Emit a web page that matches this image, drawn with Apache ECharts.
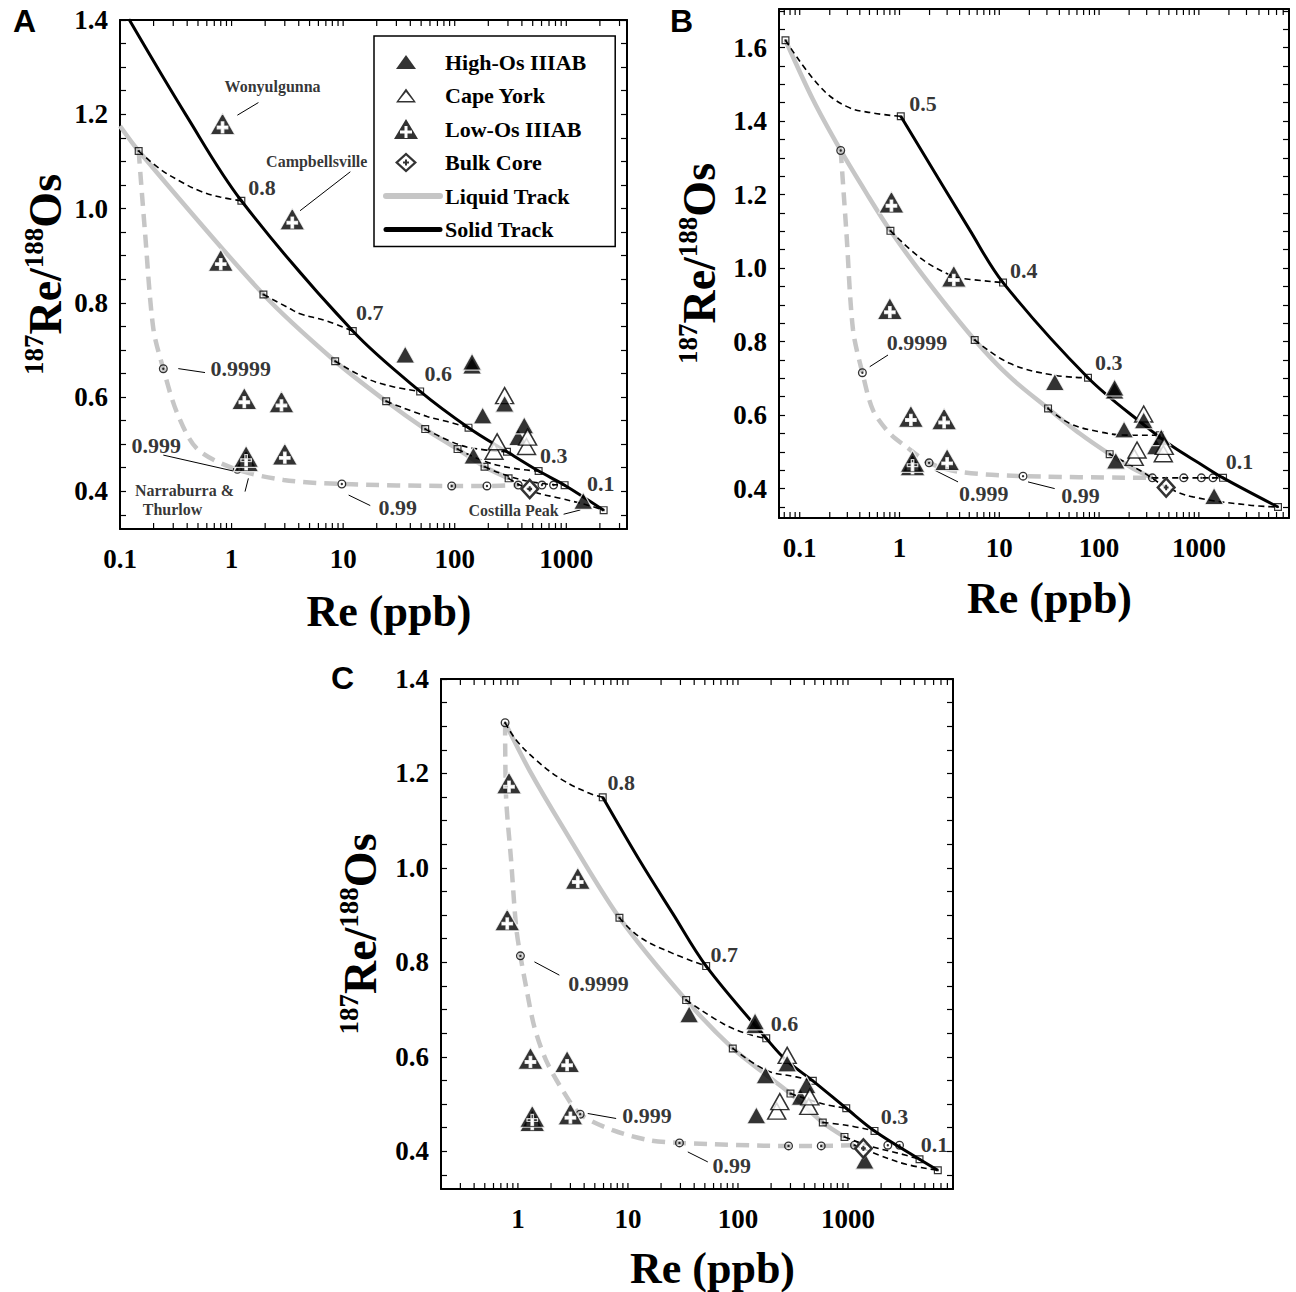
<!DOCTYPE html>
<html>
<head>
<meta charset="utf-8">
<script src="https://cdn.jsdelivr.net/npm/echarts@6/dist/echarts.min.js"></script>
<style>
  html, body { margin: 0; padding: 0; background: #fff; }
  #chart { width: 1296px; height: 1292px; }
</style>
</head>
<body>
<div id="chart"></div>
<script>
// ---------------------------------------------------------------------------
// Meteorite analyses (Re in ppb, 187Re/188Os) — shared by all three panels
// ---------------------------------------------------------------------------
const highOsIIIAB = [[36, 0.69], [143, 0.667], [143, 0.675], [178, 0.561], [280, 0.586],
                     [370, 0.515], [420, 0.54], [147, 0.476], [1420, 0.38]];
const capeYork    = [[280, 0.603], [225, 0.485], [240, 0.505], [440, 0.495], [450, 0.515]];
const lowOsIIIAB  = [[0.83, 1.18], [3.5, 0.978], [0.8, 0.89], [1.3, 0.597], [2.8, 0.59],
                     [1.35, 0.465], [1.35, 0.474], [3.0, 0.479]];

// Axis tick labels
const xTickLabels   = [0.1, 1, 10, 100, 1000];
const yTickLabelsAC = [0.4, 0.6, 0.8, 1.0, 1.2, 1.4];
const yTickLabelsB  = [0.4, 0.6, 0.8, 1.0, 1.2, 1.4, 1.6];

// ---------------------------------------------------------------------------
// Panel A model
// ---------------------------------------------------------------------------
const aSolidTrack  = [[0.12, 1.402], [0.396, 1.196], [1.224, 1.0165], [12.2, 0.74], [49, 0.612],
                      [133, 0.535], [294, 0.484], [565, 0.443], [966, 0.413], [2162, 0.36]];
const aLiquidTrack = [[0.1, 1.175], [0.147, 1.122], [1.93, 0.8176], [8.48, 0.676], [24.3, 0.591],
                      [54.4, 0.532], [106, 0.4895], [185, 0.452], [304, 0.4275]];
const aLiquidAlt   = [[0.147, 1.122], [0.1675, 0.95], [0.199, 0.745], [0.2445, 0.66], [0.322, 0.5687],
                      [0.487, 0.491], [1.04, 0.4487], [2.92, 0.424], [9.73, 0.4155], [94, 0.4113],
                      [194.5, 0.4113], [371, 0.4133]];
const aMixing = [
  [[0.147, 1.122], [0.229, 1.0836], [0.345, 1.058], [0.522, 1.037], [0.789, 1.0243], [1.224, 1.0165]],
  [[1.93, 0.8176], [3.35, 0.7873], [4.11, 0.7767], [7, 0.762], [12.2, 0.74]],
  [[8.48, 0.676], [16.4, 0.639], [28, 0.622], [49, 0.612]],
  [[24.3, 0.591], [56.6, 0.5587], [85.7, 0.548], [133, 0.535]],
  [[54.4, 0.532], [112, 0.498], [194, 0.4874], [294, 0.484]],
  [[106, 0.4895], [188, 0.463], [337, 0.4487], [565, 0.443]],
  [[185, 0.452], [315, 0.431], [585, 0.417], [966, 0.413]],
  [[304, 0.4275], [509, 0.3994], [883, 0.3852], [1531, 0.371], [2162, 0.36]]
];
const aSolidNodes  = [[1.224, 1.0165], [12.2, 0.74], [49, 0.612], [133, 0.535], [294, 0.484],
                      [565, 0.443], [966, 0.413], [2162, 0.36]];
const aLiquidNodes = [[0.147, 1.122], [1.93, 0.8176], [8.48, 0.676], [24.3, 0.591], [54.4, 0.532],
                      [106, 0.4895], [185, 0.452], [304, 0.4275]];
const aAltNodes    = [[0.2445, 0.66], [1.127, 0.4466], [9.73, 0.4155], [94, 0.4113], [194.5, 0.4113],
                      [371, 0.4133], [605, 0.4133], [769, 0.4133]];
const aBulkCore    = [[470, 0.405]];
const aFractionLabels = [['0.8', 1.87, 1.045], ['0.7', 17.3, 0.78], ['0.6', 71, 0.649], ['0.3', 770, 0.477],
                         ['0.1', 2040, 0.416], ['0.9999', 1.21, 0.66], ['0.999', 0.211, 0.498],
                         ['0.99', 30.8, 0.366]];
const aMeteoriteLabels = [['Wonyulgunna', 2.33, 1.258], ['Campbellsville', 5.8, 1.10],
                          ['Narraburra &', 0.378, 0.401], ['Thurlow', 0.296, 0.3623],
                          ['Costilla Peak', 337, 0.359]];
const aLeaders = [
  [[0.333, 0.6603], [0.578, 0.6519]], [[0.2445, 0.4768], [1.038, 0.443]], [[11.2, 0.392], [17.5, 0.3697]],
  [[1.127, 1.198], [1.74, 1.2248]], [[4.11, 0.9953], [11.6, 1.078]], [[1.32, 0.3994], [1.415, 0.4275]],
  [[946, 0.3513], [1336, 0.3604]]
];

// ---------------------------------------------------------------------------
// Panel B model
// ---------------------------------------------------------------------------
const bSolidTrack  = [[1.03, 1.413], [5.05, 1.104], [10.9, 0.9605], [77.4, 0.7017],
                      [298, 0.568], [551, 0.5136], [1018, 0.4684], [1746, 0.4292], [6207, 0.35]];
const bLiquidTrack = [[0.072, 1.62], [0.136, 1.458], [0.2575, 1.32], [0.466, 1.204], [0.811, 1.1014],
                      [1.86, 0.968], [5.67, 0.8044], [12.7, 0.7044], [30.8, 0.6182], [64, 0.55],
                      [127.7, 0.4937], [219, 0.4547], [342, 0.4292]];
const bLiquidAlt   = [[0.2575, 1.32], [0.294, 1.095], [0.342, 0.832], [0.4246, 0.7153], [0.542, 0.6136],
                      [0.798, 0.55], [1.17, 0.5136], [1.98, 0.47], [4.0, 0.4455], [17.3, 0.4338],
                      [342, 0.4292]];
const bMixing = [
  [[0.072, 1.62], [0.1585, 1.4946], [0.294, 1.44], [0.543, 1.422], [1.03, 1.413]],
  [[0.811, 1.1014], [1.72, 1.0223], [3.44, 0.977], [4.0, 0.9725], [10.9, 0.9605]],
  [[5.67, 0.8044], [12.7, 0.741], [34.5, 0.709], [77.4, 0.7017]],
  [[30.8, 0.6182], [50.7, 0.5774], [101, 0.5545], [187.5, 0.5455], [405, 0.545]],
  [[127.7, 0.4937], [255, 0.45], [472, 0.4046], [873, 0.3774], [3229, 0.3548], [6207, 0.35]],
  [[342, 0.4292], [1746, 0.4292]]
];
const bSolidNodes  = [[1.03, 1.413], [10.9, 0.9605], [77.4, 0.7017], [405, 0.545], [1746, 0.4292], [6207, 0.35]];
const bLiquidNodes = [[0.072, 1.62], [0.811, 1.1014], [5.67, 0.8044], [30.8, 0.6182], [127.7, 0.4937]];
const bAltNodes    = [[0.2575, 1.32], [0.4246, 0.7153], [1.98, 0.47], [17.3, 0.4338], [342, 0.4292],
                      [705, 0.4292], [1059, 0.4292], [1384, 0.4292]];
const bBulkCore    = [[470, 0.403]];
const bFractionLabels = [['0.5', 1.72, 1.449], ['0.4', 17.6, 0.993], ['0.3', 125, 0.742], ['0.1', 2560, 0.474],
                         ['0.9999', 1.5, 0.798], ['0.999', 6.98, 0.387], ['0.99', 65, 0.382]];
const bLeaders = [
  [[0.503, 0.7316], [0.767, 0.7635]], [[2.25, 0.45], [3.86, 0.4182]], [[19.4, 0.4182], [35.9, 0.40]]
];

// ---------------------------------------------------------------------------
// Panel C model
// ---------------------------------------------------------------------------
const cSolidTrack  = [[5.9, 1.1494], [12.7, 1.0165], [25.5, 0.9036], [51.4, 0.792],
                      [180.7, 0.639], [274, 0.5928], [479, 0.549], [964, 0.491],
                      [1741, 0.443], [4467, 0.383], [6550, 0.3597]];
const cLiquidTrack = [[0.765, 1.3074], [1.27, 1.2072], [2.55, 1.087], [8.37, 0.8943], [33.8, 0.72],
                      [89.7, 0.6176], [180, 0.562], [300, 0.522], [590, 0.4608], [929, 0.4303]];
const cLiquidAlt   = [[0.765, 1.3074], [0.78, 1.151], [0.867, 1.0165], [0.963, 0.8752], [1.054, 0.8138],
                      [1.187, 0.748], [1.41, 0.6634], [1.8, 0.5928], [2.55, 0.529], [3.68, 0.4784],
                      [7.27, 0.4445], [15.7, 0.4233], [29.4, 0.4176], [288, 0.4112], [571, 0.4112],
                      [1146, 0.4127]];
const cMixing = [
  [[0.765, 1.3074], [0.963, 1.271], [1.46, 1.2284], [2.55, 1.186], [4.47, 1.158], [5.9, 1.1494]],
  [[8.37, 0.8943], [12.7, 0.854], [25.5, 0.819], [51.4, 0.792]],
  [[33.8, 0.72], [72.8, 0.6705], [119, 0.6493], [180.7, 0.639]],
  [[89.7, 0.6176], [180, 0.5716], [338, 0.5574], [479, 0.549]],
  [[300, 0.522], [600, 0.5], [964, 0.491]],
  [[590, 0.4608], [964, 0.455], [1741, 0.443]],
  [[929, 0.4303], [1682, 0.4091], [2940, 0.3951], [4467, 0.383]],
  [[1146, 0.4127], [1933, 0.3915], [3381, 0.3724], [6550, 0.3597]]
];
const cSolidNodes  = [[5.9, 1.1494], [51.4, 0.792], [180.7, 0.639], [479, 0.549], [964, 0.491],
                      [1741, 0.443], [4467, 0.383], [6550, 0.3597]];
const cLiquidNodes = [[8.37, 0.8943], [33.8, 0.72], [89.7, 0.6176], [300, 0.522], [590, 0.4608], [929, 0.4303]];
const cAltNodes    = [[0.765, 1.3074], [1.054, 0.8138], [3.68, 0.4784], [29.4, 0.4176], [288, 0.4112],
                      [571, 0.4112], [1146, 0.4127], [2301, 0.4127], [2940, 0.4127]];
const cBulkCore    = [[1380, 0.406]];
const cFractionLabels = [['0.8', 8.68, 1.181], ['0.7', 75, 0.817], ['0.6', 265, 0.67], ['0.3', 2650, 0.473],
                         ['0.1', 6100, 0.414], ['0.9999', 5.41, 0.755], ['0.999', 14.9, 0.476],
                         ['0.99', 88, 0.37]];
const cLeaders = [
  [[1.413, 0.801], [2.38, 0.7729]], [[4.31, 0.4799], [7.81, 0.4693]], [[35.0, 0.3985], [53.2, 0.3773]]
];

// ---------------------------------------------------------------------------
// Symbols (path symbols are scaled to their symbolSize box)
// ---------------------------------------------------------------------------
const SERIF = 'Liberation Serif';
const SYM_TRI      = 'path://M50,0L100,87L0,87Z';
const SYM_TRICROSS = 'path://M50,0L100,87L0,87Z M45,36L45,53L29,53L29,64L45,64L45,80L55,80L55,64L71,64L71,53L55,53L55,36Z';
const SYM_CORE     = 'path://M50,0L100,50L50,100L0,50Z M50,17L17,50L50,83L83,50Z M45,38H55V45H62V55H55V62H45V55H38V45H45Z';
const SYM_SQDOT    = 'path://M0,0H100V100H0Z M15,15V85H85V15Z M37,37H63V63H37Z';
const SYM_CIRCDOT  = 'path://M50,0A50,50,0,1,1,50,100A50,50,0,1,1,50,0Z M50,15A35,35,0,1,0,50,85A35,35,0,1,0,50,15Z M50,37A13,13,0,1,1,50,63A13,13,0,1,1,50,37Z';

// Legend icons drawn inside the 54 x 20 legend icon box
const LEG_TRI      = 'path://M0,0 M54,20 M20,3L30,17L10,17Z';
const LEG_TRIOPEN  = 'path://M0,0 M54,20 M20,3L30,17L10,17Z M20,6.4L12.7,15.6L27.3,15.6Z';
const LEG_TRICROSS = 'path://M0,0 M54,20 M20,0L32,20L8,20Z M18.5,7V11.5H14V14.5H18.5V19H21.5V14.5H26V11.5H21.5V7Z';
const LEG_CORE     = 'path://M0,0 M54,20 M20,0L31,10L20,20L9,10Z M20,3L12.3,10L20,17L27.7,10Z M19,7H21V9H23V11H21V13H19V11H17V9H19Z';

const LIQ_GRAY = '#c6c6c6';

const panels = [
  { letter: 'A', xMin: 0.1, xMax: 3500, yMin: 0.32, yMax: 1.4, yLabels: yTickLabelsAC,
    grid: { left: 120, top: 20, width: 507, height: 509 }, yGap: 50, xGap: 60,
    solid: aSolidTrack, liquid: aLiquidTrack, alt: aLiquidAlt, mixing: aMixing,
    solidNodes: aSolidNodes, liquidNodes: aLiquidNodes, altNodes: aAltNodes, bulk: aBulkCore,
    fractions: aFractionLabels, names: aMeteoriteLabels, leaders: aLeaders },
  { letter: 'B', xMin: 0.062, xMax: 8000, yMin: 0.32, yMax: 1.705, yLabels: yTickLabelsB,
    grid: { left: 779, top: 9, width: 510, height: 509 }, yGap: 55, xGap: 58,
    solid: bSolidTrack, liquid: bLiquidTrack, alt: bLiquidAlt, mixing: bMixing,
    solidNodes: bSolidNodes, liquidNodes: bLiquidNodes, altNodes: bAltNodes, bulk: bBulkCore,
    fractions: bFractionLabels, names: [], leaders: bLeaders },
  { letter: 'C', xMin: 0.2, xMax: 9000, yMin: 0.32, yMax: 1.4, yLabels: yTickLabelsAC,
    grid: { left: 441, top: 679, width: 512, height: 510 }, yGap: 56, xGap: 57,
    solid: cSolidTrack, liquid: cLiquidTrack, alt: cLiquidAlt, mixing: cMixing,
    solidNodes: cSolidNodes, liquidNodes: cLiquidNodes, altNodes: cAltNodes, bulk: cBulkCore,
    fractions: cFractionLabels, names: [], leaders: cLeaders }
];

function isDecade(v) {
  const l = Math.log10(v);
  return Math.abs(l - Math.round(l)) < 1e-6;
}

function yMinorTicks(p) {
  const out = [];
  for (let k = Math.ceil(p.yMin / 0.05); k * 0.05 <= p.yMax + 1e-9; k++) out.push(+(k * 0.05).toFixed(2));
  return out;
}

function logTicks(p) {
  const out = [];
  for (let e = Math.floor(Math.log10(p.xMin)); e <= Math.ceil(Math.log10(p.xMax)); e++) {
    for (let k = 1; k < 10; k++) {
      const v = +(k * Math.pow(10, e)).toPrecision(6);
      if (v > p.xMin * 1.0001 && v < p.xMax * 0.9999) out.push(v);
    }
  }
  return out;
}

const grids = [], xAxes = [], yAxes = [], series = [], titles = [];
const axisLineStyle = { color: '#000', width: 2 };
const tickLabelStyle = { fontFamily: SERIF, fontWeight: 'bold', fontSize: 27, color: '#000' };

panels.forEach((p, i) => {
  grids.push(Object.assign({ show: false }, p.grid));
  const xi = 2 * i, yi = 2 * i;

  xAxes.push({
    type: 'log', logBase: 10, gridIndex: i, min: p.xMin, max: p.xMax, position: 'bottom',
    axisLine: { show: true, lineStyle: axisLineStyle },
    axisTick: { show: false }, splitLine: { show: false },
    axisLabel: Object.assign({ margin: 16, showMinLabel: true, showMaxLabel: true,
      formatter: v => (isDecade(v) && xTickLabels.some(t => Math.abs(t - v) / t < 1e-6)) ? String(v) : '' }, tickLabelStyle),
    name: 'Re (ppb)', nameLocation: 'middle', nameGap: p.xGap,
    nameTextStyle: { fontFamily: SERIF, fontWeight: 'bold', fontSize: 44, color: '#000', padding: [0, 0, 0, 31] }
  });
  xAxes.push({
    type: 'log', logBase: 10, gridIndex: i, min: p.xMin, max: p.xMax, position: 'top',
    axisLine: { show: true, lineStyle: axisLineStyle },
    axisTick: { show: false }, axisLabel: { show: false }, splitLine: { show: false }
  });

  const yt = yMinorTicks(p);
  yAxes.push({
    type: 'value', gridIndex: i, min: p.yMin, max: p.yMax, position: 'left',
    axisLine: { show: true, lineStyle: axisLineStyle },
    axisTick: { show: true, inside: true, length: 6, customValues: yt, lineStyle: { color: '#000', width: 1.2 } },
    axisLabel: Object.assign({ margin: 12, customValues: p.yLabels, formatter: v => v.toFixed(1) }, tickLabelStyle),
    splitLine: { show: false },
    name: '{s|187}{m|Re/}{s|188}{m|Os}', nameLocation: 'middle', nameRotate: 90, nameGap: p.yGap,
    nameTextStyle: {
      rich: {
        m: { fontFamily: SERIF, fontWeight: 'bold', fontSize: 46, color: '#000', lineHeight: 50 },
        s: { fontFamily: SERIF, fontWeight: 'bold', fontSize: 27, color: '#000', lineHeight: 30, verticalAlign: 'top' }
      }
    }
  });
  yAxes.push({
    type: 'value', gridIndex: i, min: p.yMin, max: p.yMax, position: 'right',
    axisLine: { show: true, lineStyle: axisLineStyle },
    axisTick: { show: true, inside: true, length: 6, customValues: yt, lineStyle: { color: '#000', width: 1.2 } },
    axisLabel: { show: false }, splitLine: { show: false }
  });

  const on = { xAxisIndex: xi, yAxisIndex: yi };

  // liquid tracks
  series.push(Object.assign({ type: 'line', name: 'Liquid Track', data: p.liquid, symbol: 'none', smooth: 0.3,
    itemStyle: { color: LIQ_GRAY }, lineStyle: { color: LIQ_GRAY, width: 4.5 }, z: 2, silent: true }, on));
  series.push(Object.assign({ type: 'line', name: 'Liquid Track, high D', data: p.alt, symbol: 'none', smooth: 0.3,
    itemStyle: { color: LIQ_GRAY }, lineStyle: { color: LIQ_GRAY, width: 4.5, type: [13, 8] }, z: 2, silent: true }, on));
  // mixing lines between coexisting liquid and solid
  p.mixing.forEach(seg => series.push(Object.assign({ type: 'line', name: 'Mixing', data: seg, symbol: 'none',
    smooth: 0.4, itemStyle: { color: '#000' }, lineStyle: { color: '#000', width: 1.6, type: [6, 4] }, z: 3, silent: true }, on)));
  // solid track
  series.push(Object.assign({ type: 'line', name: 'Solid Track', data: p.solid, symbol: 'none', smooth: 0.35,
    itemStyle: { color: '#000' }, lineStyle: { color: '#000', width: 3 }, z: 4, silent: true }, on));
  // model nodes
  series.push(Object.assign({ type: 'scatter', name: 'Model step', data: p.solidNodes.concat(p.liquidNodes),
    symbol: SYM_SQDOT, symbolSize: 8, itemStyle: { color: '#000' }, z: 5, silent: true }, on));
  series.push(Object.assign({ type: 'scatter', name: 'Model step, high D', data: p.altNodes,
    symbol: SYM_CIRCDOT, symbolSize: 9, itemStyle: { color: '#000' }, z: 5, silent: true }, on));
  // leader lines for annotations
  p.leaders.forEach(seg => series.push(Object.assign({ type: 'line', name: 'Leader', data: seg, symbol: 'none',
    itemStyle: { color: '#000' }, lineStyle: { color: '#000', width: 1 }, z: 6, silent: true }, on)));
  // meteorite analyses
  series.push(Object.assign({ type: 'scatter', name: 'Cape York', data: capeYork.slice(0, 1), symbol: SYM_TRI,
    symbolSize: [18, 16], itemStyle: { color: '#fff', borderColor: '#000', borderWidth: 1.5 }, z: 7 }, on));
  series.push(Object.assign({ type: 'scatter', name: 'High-Os IIIAB', data: highOsIIIAB, symbol: SYM_TRI,
    symbolSize: [19, 17], itemStyle: { color: '#000', borderColor: '#fff', borderWidth: 1.2 }, z: 8 }, on));
  series.push(Object.assign({ type: 'scatter', name: 'Cape York', data: capeYork.slice(1), symbol: SYM_TRI,
    symbolSize: [18, 16], itemStyle: { color: '#fff', borderColor: '#000', borderWidth: 1.5 }, z: 9 }, on));
  series.push(Object.assign({ type: 'scatter', name: 'Low-Os IIIAB', data: lowOsIIIAB, symbol: SYM_TRICROSS,
    symbolSize: [25, 22], itemStyle: { color: '#000', borderColor: '#fff', borderWidth: 1.2 }, z: 9 }, on));
  series.push(Object.assign({ type: 'scatter', name: 'Bulk Core', data: p.bulk, symbol: 'diamond',
    symbolSize: [20, 22], itemStyle: { color: '#fff' }, z: 9, silent: true }, on));
  series.push(Object.assign({ type: 'scatter', name: 'Bulk Core', data: p.bulk, symbol: SYM_CORE,
    symbolSize: [20, 22], itemStyle: { color: '#000' }, z: 10 }, on));

  // text annotations
  const textSeries = (arr, size, name) => Object.assign({ type: 'scatter', name, symbolSize: 1,
    itemStyle: { color: 'rgba(0,0,0,0)' }, silent: true, z: 12,
    data: arr.map(([t, x, y]) => ({ name: t, value: [x, y] })),
    label: { show: true, position: 'inside', formatter: '{b}', fontFamily: SERIF, fontWeight: 'bold',
      fontSize: size, color: '#000' } }, on);
  series.push(textSeries(p.fractions, 22, 'Fraction crystallized'));
  if (p.names.length) series.push(textSeries(p.names, 16, 'Meteorite'));

  // log-axis ticks (inside, top and bottom)
  series.push(Object.assign({
    type: 'custom', name: 'x ticks', silent: true, clip: false, z: 11,
    data: logTicks(p).map(v => [v, p.yMin]),
    renderItem: (params, api) => {
      const v = api.value(0);
      const b = api.coord([v, p.yMin]);
      const t = api.coord([v, p.yMax]);
      const st = { stroke: '#000', lineWidth: 1.2 };
      return { type: 'group', children: [
        { type: 'line', shape: { x1: b[0], y1: b[1], x2: b[0], y2: b[1] - 6 }, style: st },
        { type: 'line', shape: { x1: t[0], y1: t[1], x2: t[0], y2: t[1] + 6 }, style: st }
      ] };
    }
  }, on));

  titles.push({ text: p.letter, left: { A: 13, B: 670, C: 331 }[p.letter], top: { A: 5, B: 5, C: 662 }[p.letter],
    padding: 0, textStyle: { fontFamily: 'Liberation Sans', fontWeight: 'bold', fontSize: 32, color: '#000' } });
});

const legendItem = (name, icon) => ({ name, icon, itemStyle: { color: '#000', borderWidth: 0 } });
const legendTrack = (name, color, width) => ({ name, itemStyle: { opacity: 0 },
  lineStyle: { color, width, cap: 'round' } });

const chart = echarts.init(document.getElementById('chart'), null, { renderer: 'svg' });
chart.setOption({
  animation: false,
  backgroundColor: '#fff',
  title: titles,
  grid: grids,
  xAxis: xAxes,
  yAxis: yAxes,
  legend: {
    orient: 'vertical', left: 374, top: 36, padding: [15, 29, 6, 9],
    itemGap: 11.5, itemWidth: 54, itemHeight: 20, selectedMode: false,
    borderColor: '#000', borderWidth: 1.5, backgroundColor: '#fff',
    textStyle: { fontFamily: SERIF, fontWeight: 'bold', fontSize: 22, color: '#000' },
    data: [
      legendItem('High-Os IIIAB', LEG_TRI),
      legendItem('Cape York', LEG_TRIOPEN),
      legendItem('Low-Os IIIAB', LEG_TRICROSS),
      legendItem('Bulk Core', LEG_CORE),
      legendTrack('Liquid Track', LIQ_GRAY, 6),
      legendTrack('Solid Track', '#000', 5)
    ]
  },
  series: series
});
</script>
</body>
</html>
